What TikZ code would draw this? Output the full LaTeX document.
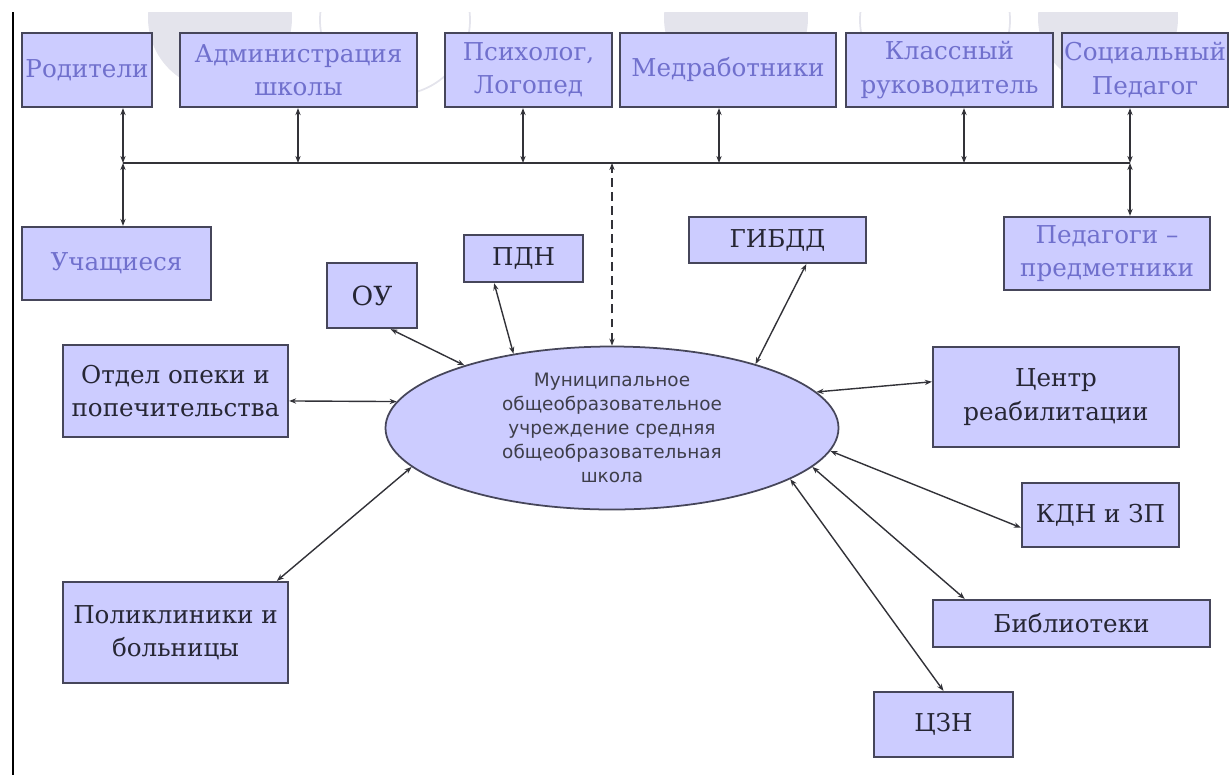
\documentclass[tikz,border=0pt]{standalone}
\usepackage{fontspec}
\setmainfont{DejaVu Serif}
\newfontfamily\ellfont{DejaVu Sans}
\usetikzlibrary{arrows.meta,shapes.geometric}

\definecolor{boxfill}{RGB}{204,204,255}
\definecolor{boxline}{RGB}{70,70,90}
\definecolor{bluetext}{RGB}{112,112,205}
\definecolor{darktext}{RGB}{38,38,52}
\definecolor{elltext}{RGB}{62,62,74}
\definecolor{linkcol}{RGB}{50,50,56}
\definecolor{wmark}{RGB}{228,228,236}

\begin{document}
\begin{tikzpicture}[x=0.02cm, y=-0.02cm,
    boxsize/.style 2 args={minimum width=#1*0.02cm, minimum height=#2*0.02cm},
    box/.style={rectangle, draw=boxline, line width=1.3pt, fill=boxfill, align=center, inner sep=0pt, font=\fontsize{14}{19}\selectfont},
    topbox/.style={box, text=bluetext},
    sidebox/.style={box, text=darktext},
    link/.style={draw=linkcol, line width=0.8pt, {Stealth[length=4pt,width=3pt]}-{Stealth[length=4pt,width=3pt]}}]
    \useasboundingbox (0,0) rectangle (1229,775);

    % Watermark at the top
    \begin{scope}
        \clip (13,12) rectangle (1229,775);
        \fill[wmark] (220,18) circle[radius=1.44cm];
        \draw[wmark, line width=1pt] (395,20) circle[radius=1.5cm];
        \fill[wmark] (736,18) circle[radius=1.44cm];
        \draw[wmark, line width=1pt] (935,20) circle[radius=1.5cm];
        \fill[wmark] (1108,18) circle[radius=1.4cm];
    \end{scope}
    \draw[black, line width=0.9pt] (13,12) -- (13,775);

    % School staff
    \node[topbox, boxsize={130}{74}] (rod) at (87,70) {Родители};
    \node[topbox, boxsize={237}{74}] (adm) at (298.5,70) {Администрация\\школы};
    \node[topbox, boxsize={167}{74}] (psy) at (528.5,70) {Психолог,\\Логопед};
    \node[topbox, boxsize={216}{74}] (med) at (728,70) {Медработники};
    \node[topbox, boxsize={207}{74}] (kls) at (949.5,70) {Классный\\руководитель};
    \node[topbox, boxsize={166}{74}] (soc) at (1145,70) {Социальный\\Педагог};
    \node[topbox, boxsize={189}{73}] (uch) at (116.5,263.5) {Учащиеся};
    \node[topbox, boxsize={206}{73}] (ped) at (1107,253.5) {Педагоги –\\предметники};

    % Common line
    \coordinate (busL) at (123,163);
    \coordinate (busR) at (1130,163);
    \coordinate (bAdm) at (298,163);
    \coordinate (bPsy) at (523,163);
    \coordinate (bMed) at (719,163);
    \coordinate (bKls) at (964,163);
    \draw[linkcol, line width=0.8pt] (busL) -- (busR);
    \draw[link] (rod.south -| busL) -- (busL);
    \draw[link] (adm.south -| bAdm) -- (bAdm);
    \draw[link] (psy.south -| bPsy) -- (bPsy);
    \draw[link] (med.south -| bMed) -- (bMed);
    \draw[link] (kls.south -| bKls) -- (bKls);
    \draw[link] (soc.south -| busR) -- (busR);
    \draw[link] (busL) -- (uch.north -| busL);
    \draw[link] (busR) -- (ped.north -| busR);

    % School
    \node[ellipse, draw=boxline, line width=1pt, fill=boxfill, boxsize={453}{163}, inner sep=0pt, align=center,
          font=\ellfont\fontsize{10.5}{13.6}\selectfont, text=elltext] (school) at (612,428)
          {Муниципальное\\общеобразовательное\\учреждение средняя\\общеобразовательная\\школа};
    \draw[link, dash pattern=on 5pt off 3pt] (school.north) -- (school.north |- busL);

    % Partners
    \node[sidebox, boxsize={90}{65}, font=\fontsize{15}{19}\selectfont] (ou) at (372,295.5) {ОУ};
    \node[sidebox, boxsize={119}{47}] (pdn) at (523.5,258.5) {ПДН};
    \node[sidebox, boxsize={177}{46}] (gibdd) at (777.5,240) {ГИБДД};
    \node[sidebox, boxsize={225}{92}] (opeka) at (175.5,391) {Отдел опеки и\\попечительства};
    \node[sidebox, boxsize={246}{100}] (centr) at (1056,397) {Центр\\реабилитации};
    \node[sidebox, boxsize={157}{64}] (kdn) at (1100.5,515) {КДН и ЗП};
    \node[sidebox, boxsize={277}{47}] (bibl) at (1071.5,623.5) {Библиотеки};
    \node[sidebox, boxsize={139}{65}] (czn) at (943.5,724.5) {ЦЗН};
    \node[sidebox, boxsize={225}{101}] (polik) at (175.5,632.5) {Поликлиники и\\больницы};

    % Links to the school
    \draw[link] (ou.299) -- (school.157);
    \draw[link] (pdn.220) -- (school.143);
    \draw[link] (gibdd.320) -- (school.24);
    \draw[link] (opeka.355) -- (school.173);
    \draw[link] (centr.173) -- (school.10);
    \draw[link] (kdn.189) -- (school.354);
    \draw[link] (bibl.167) -- (school.349);
    \draw[link] (czn.north) -- (school.344);
    \draw[link] (polik.27) -- (school.191);
\end{tikzpicture}
\end{document}
